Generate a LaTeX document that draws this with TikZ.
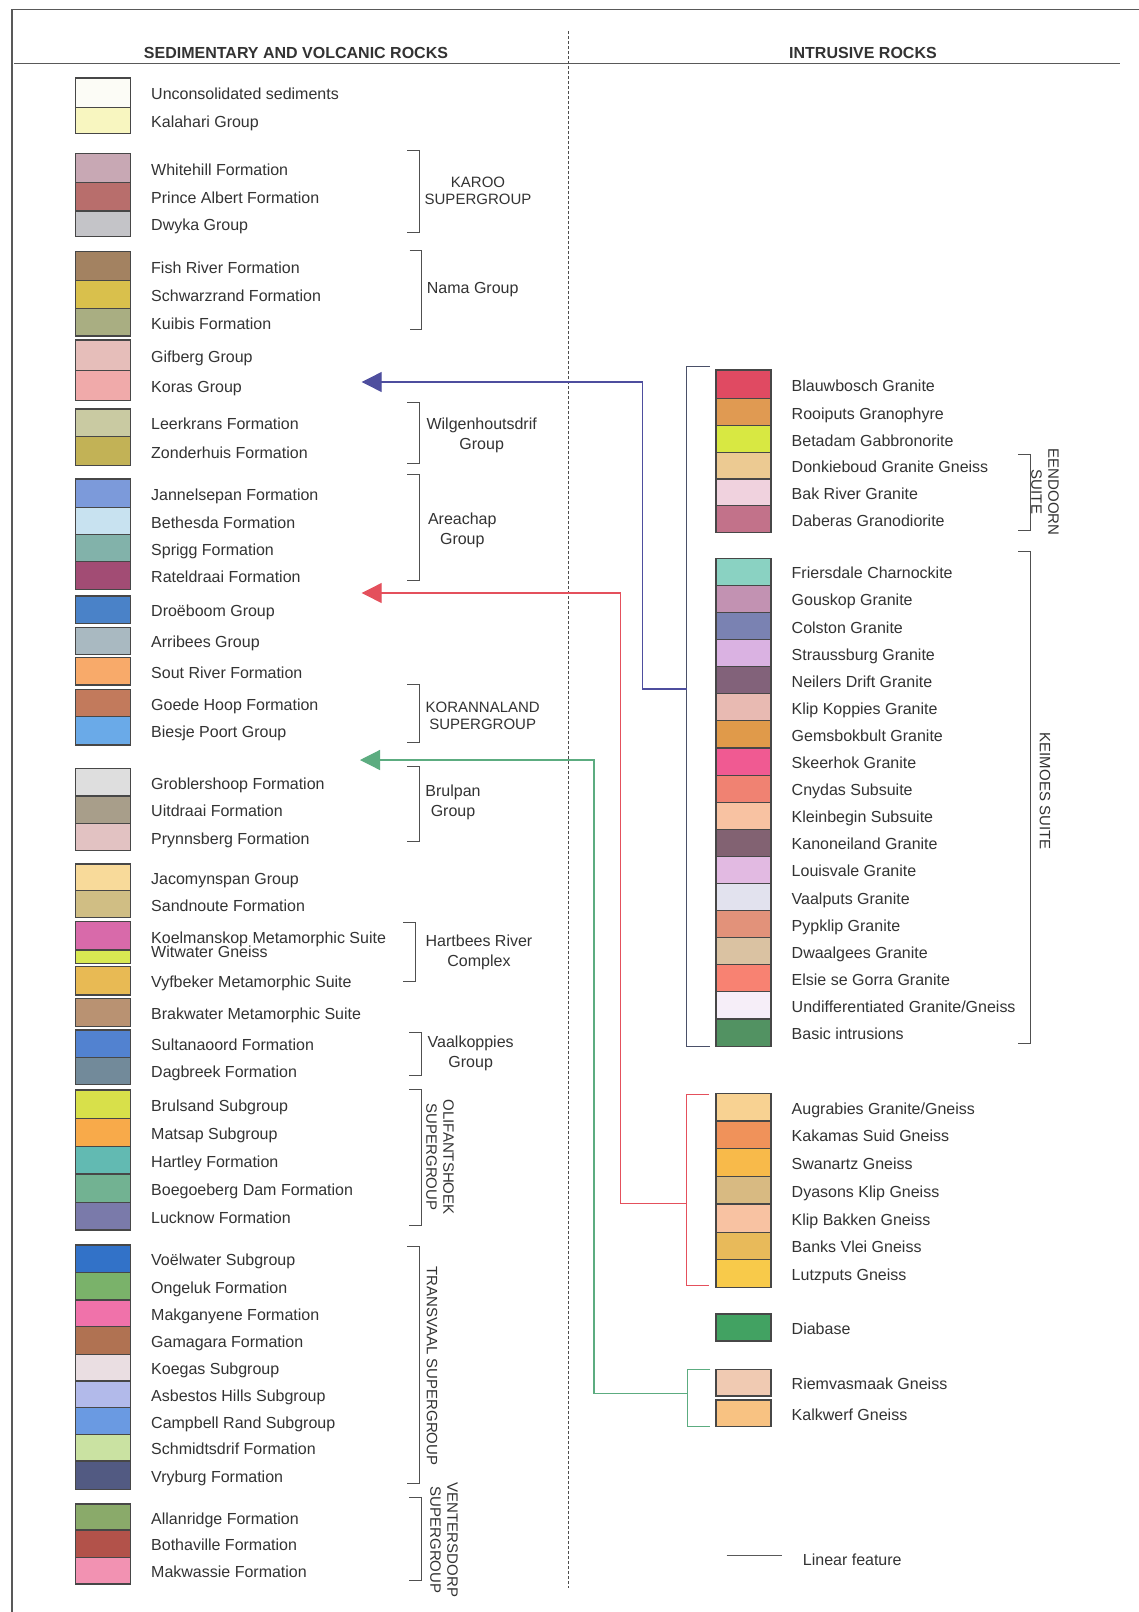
\documentclass[tikz,border=0pt]{standalone}
\usepackage{fontspec}
\setmainfont{Liberation Sans}
\usetikzlibrary{arrows.meta}
\definecolor{ink}{HTML}{333333}
\definecolor{brkc}{HTML}{505050}
\definecolor{bluec}{HTML}{4E4E9E}
\definecolor{redc}{HTML}{E4505C}
\definecolor{greenc}{HTML}{5CAC80}
\definecolor{outerc}{HTML}{4A5068}
\tikzset{
 swatch/.style={draw=black!72,line width=1.1pt,inner sep=0,outer sep=0,minimum width=55,rectangle},
 lbl/.style={anchor=base west,inner sep=0,text=ink,font=\fontsize{16}{18}\selectfont},
 grp/.style={align=center,inner sep=0,text=ink,font=\fontsize{16}{20}\selectfont},
 capl/.style={align=center,inner sep=0,text=ink,font=\fontsize{15}{17}\selectfont},
 brk/.style={draw=brkc,line width=1pt},
 head/.style={inner sep=0,text=ink,font=\bfseries\fontsize{16}{18}\selectfont},
 conn/.style={line width=1.2pt,-{Triangle[length=20pt,width=20pt]}},
}
% #1 name, #2 x centre, #3 top, #4 bottom, #5 HTML colour, #6 label
\newcommand\mysw[6]{%
  \definecolor{c#1}{HTML}{#5}%
  \node[swatch,fill=c#1,minimum height={#4-#3}] (#1) at (#2,{(#3+#4)/2}) {};
  \node[lbl] (#1-t) at ({#2+48},{(#3+#4)/2+7}) {#6};}
% same, explicit text baseline #7
\newcommand\myswb[7]{%
  \definecolor{c#1}{HTML}{#5}%
  \node[swatch,fill=c#1,minimum height={#4-#3}] (#1) at (#2,{(#3+#4)/2}) {};
  \node[lbl] (#1-t) at ({#2+48},#7) {#6};}
% closing bracket ] : #1 name, #2 x, #3 top, #4 bottom, #5 style
\newcommand\mybrR[5]{%
  \draw[#5] ({#2-12},#3) -- (#2,#3) -- (#2,#4) -- ({#2-12},#4);
  \coordinate (#1) at (#2,{(#3+#4)/2});}
% opening bracket [ : #1 name, #2 x, #3 top, #4 bottom, #5 style
\newcommand\mybrL[5]{%
  \draw[#5] ({#2+23},#3) -- (#2,#3) -- (#2,#4) -- ({#2+23},#4);
  \coordinate (#1) at (#2,{(#3+#4)/2});}
\begin{document}
\begin{tikzpicture}[x=1pt,y=-1pt]
\useasboundingbox (0,0) rectangle (1139,1612);
\fill[white] (0,0) rectangle (1139,1612);
% frame
\draw[draw=black!65,line width=1.5pt] (12,1612) -- (12,9.5) -- (1139,9.5);
\draw[draw=black!65,line width=1.3pt] (14,63.5) -- (1120,63.5);
\draw[draw=black!70,line width=0.8pt,dash pattern=on 3pt off 2pt] (568,31) -- (568,1588);
\node[head] (h1) at (296,53) {SEDIMENTARY AND VOLCANIC ROCKS};
\node[head] (h2) at (863,53) {INTRUSIVE ROCKS};

% ---------------- left column
\mysw{uncon}{103}{78}{107.7}{FCFCF6}{Unconsolidated sediments}
\mysw{kala}{103}{107.7}{133.3}{F8F6C0}{Kalahari Group}

\mysw{white}{103}{153.3}{182.7}{C8A8B4}{Whitehill Formation}
\mysw{prince}{103}{182.7}{211}{B86E6C}{Prince Albert Formation}
\mysw{dwyka}{103}{211}{236.7}{C4C4C8}{Dwyka Group}

\mysw{fish}{103}{251.7}{280.7}{A38261}{Fish River Formation}
\mysw{schw}{103}{280.7}{308.3}{D9C04C}{Schwarzrand Formation}
\mysw{kuibis}{103}{308.3}{336}{A9AE82}{Kuibis Formation}

\mysw{gif}{103}{340}{370.7}{E6BEBA}{Gifberg Group}
\mysw{koras}{103}{370.7}{400.7}{F0AAAA}{Koras Group}

\mysw{leer}{103}{409}{436.7}{C9CAA2}{Leerkrans Formation}
\mysw{zond}{103}{436.7}{465.7}{C2B256}{Zonderhuis Formation}

\mysw{jann}{103}{479}{507.7}{7C9ADA}{Jannelsepan Formation}
\mysw{beth}{103}{507.7}{534.3}{C8E2F0}{Bethesda Formation}
\mysw{sprigg}{103}{534.3}{561.7}{82B2AA}{Sprigg Formation}
\mysw{ratel}{103}{561.7}{589.3}{A24C74}{Rateldraai Formation}

\mysw{droe}{103}{596}{623.3}{4A82C8}{Droëboom Group}
\mysw{arri}{103}{627.5}{654.3}{A9B9C1}{Arribees Group}
\mysw{sout}{103}{657.5}{685}{F8AA6A}{Sout River Formation}

\mysw{goede}{103}{689.3}{716.7}{C27A5C}{Goede Hoop Formation}
\mysw{biesje}{103}{716.7}{745}{6AAAE8}{Biesje Poort Group}

\mysw{grob}{103}{768.3}{796}{DEDEDE}{Groblershoop Formation}
\mysw{uit}{103}{796}{823.3}{A89E8A}{Uitdraai Formation}
\mysw{pryn}{103}{823.3}{850.7}{E2C2C2}{Prynnsberg Formation}

\mysw{jaco}{103}{864}{890.7}{F8DA9A}{Jacomynspan Group}
\mysw{sand}{103}{890.7}{917.5}{D0BE84}{Sandnoute Formation}
\myswb{koel}{103}{921.7}{950}{D86AAA}{Koelmanskop Metamorphic Suite}{943}
\myswb{witw}{103}{950}{963.3}{D8E852}{Witwater Gneiss}{957}
\mysw{vyf}{103}{966.7}{995}{E8BA54}{Vyfbeker Metamorphic Suite}
\mysw{brak}{103}{998.3}{1026.7}{B99272}{Brakwater Metamorphic Suite}

\mysw{sult}{103}{1030}{1057.3}{5282D0}{Sultanaoord Formation}
\mysw{dag}{103}{1057.3}{1084.3}{728A9A}{Dagbreek Formation}

\mysw{brul}{103}{1090}{1118.3}{D8E04A}{Brulsand Subgroup}
\mysw{mats}{103}{1118.3}{1146.7}{F8AA4A}{Matsap Subgroup}
\mysw{hart}{103}{1146.7}{1174}{62BAB2}{Hartley Formation}
\mysw{boeg}{103}{1174}{1202.7}{72B292}{Boegoeberg Dam Formation}
\mysw{luck}{103}{1202.7}{1230}{7A7AAA}{Lucknow Formation}

\mysw{voel}{103}{1245}{1272.3}{3272C8}{Voëlwater Subgroup}
\mysw{ong}{103}{1272.3}{1300}{7AB26A}{Ongeluk Formation}
\mysw{makg}{103}{1300}{1326.7}{F072AA}{Makganyene Formation}
\mysw{gama}{103}{1326.7}{1354.3}{B07252}{Gamagara Formation}
\mysw{koeg}{103}{1354.3}{1381}{EADEE2}{Koegas Subgroup}
\mysw{asb}{103}{1381}{1407.7}{B2BAEA}{Asbestos Hills Subgroup}
\mysw{camp}{103}{1407.7}{1434.3}{6A9AE2}{Campbell Rand Subgroup}
\mysw{schm}{103}{1434.3}{1461}{CAE2A2}{Schmidtsdrif Formation}
\mysw{vry}{103}{1461}{1489.3}{525A82}{Vryburg Formation}

\mysw{allan}{103}{1504}{1530}{8AAA6A}{Allanridge Formation}
\mysw{both}{103}{1530}{1557.3}{B2524A}{Bothaville Formation}
\mysw{makw}{103}{1557.3}{1584}{F292B2}{Makwassie Formation}

% left brackets and group labels
\mybrR{bkaroo}{419}{150}{232}{brk}
\node[capl] (lkaroo) at (478,190.5) {KAROO\\SUPERGROUP};
\mybrR{bnama}{421.5}{250}{329}{brk}
\node[lbl,anchor=west] (lnama) at (426.7,290) {Nama Group};
\mybrR{bwilg}{419.3}{402.7}{463.3}{brk}
\node[grp] (lwilg) at (481.7,435) {Wilgenhoutsdrif\\Group};
\mybrR{barea}{419}{474}{580.7}{brk}
\node[grp] (larea) at (462.3,530.7) {Areachap\\Group};
\mybrR{bkor}{419.3}{684.3}{742.3}{brk}
\node[capl] (lkor) at (482.7,716.3) {KORANNALAND\\SUPERGROUP};
\mybrR{bbrul}{419}{766.7}{841.7}{brk}
\node[grp] (lbrul) at (453,802.3) {Brulpan\\Group};
\mybrR{bhart}{415}{922.7}{981.7}{brk}
\node[grp] (lhart) at (479,952.7) {Hartbees River\\Complex};
\mybrR{bvaal}{421}{1032.7}{1075.7}{brk}
\node[grp] (lvaal) at (470.7,1053.3) {Vaalkoppies\\Group};
\mybrR{bolif}{421}{1089.3}{1225}{brk}
\node[capl,rotate=-90] (lolif) at (440,1157) {OLIFANTSHOEK\\SUPERGROUP};
\mybrR{btrans}{419.3}{1246.7}{1483.3}{brk}
\node[capl,rotate=-90] (ltrans) at (432,1366) {TRANSVAAL SUPERGROUP};
\mybrR{bvent}{421}{1497.3}{1580}{brk}
\node[capl,rotate=-90] (lvent) at (444,1540) {VENTERSDORP\\SUPERGROUP};

% ---------------- right column
\mysw{blau}{743.5}{370}{398.3}{E04A62}{Blauwbosch Granite}
\mysw{rooi}{743.5}{398.3}{425.7}{E09A52}{Rooiputs Granophyre}
\mysw{beta}{743.5}{425.7}{452.3}{D8E842}{Betadam Gabbronorite}
\mysw{donk}{743.5}{452.3}{479}{ECCA92}{Donkieboud Granite Gneiss}
\mysw{bak}{743.5}{479}{505.7}{F0D2DE}{Bak River Granite}
\mysw{dabe}{743.5}{505.7}{532.7}{C2728A}{Daberas Granodiorite}

\mysw{fries}{743.5}{558.3}{585.4}{8AD2C2}{Friersdale Charnockite}
\mysw{gous}{743.5}{585.4}{612.5}{C292B2}{Gouskop Granite}
\mysw{cols}{743.5}{612.5}{639.6}{7A82B2}{Colston Granite}
\mysw{strau}{743.5}{639.6}{666.7}{DAB2E2}{Straussburg Granite}
\mysw{neil}{743.5}{666.7}{693.8}{82627A}{Neilers Drift Granite}
\mysw{klipk}{743.5}{693.8}{720.9}{E8BAB2}{Klip Koppies Granite}
\mysw{gems}{743.5}{720.9}{748}{E09A4A}{Gemsbokbult Granite}
\mysw{skeer}{743.5}{748}{775.1}{F05A92}{Skeerhok Granite}
\mysw{cnyd}{743.5}{775.1}{802.2}{F08272}{Cnydas Subsuite}
\mysw{klein}{743.5}{802.2}{829.3}{F8C2A2}{Kleinbegin Subsuite}
\mysw{kanon}{743.5}{829.3}{856.4}{826272}{Kanoneiland Granite}
\mysw{louis}{743.5}{856.4}{883.5}{E2BAE2}{Louisvale Granite}
\mysw{vaalp}{743.5}{883.5}{910.6}{E2E2EE}{Vaalputs Granite}
\mysw{pypk}{743.5}{910.6}{937.7}{E2927A}{Pypklip Granite}
\mysw{dwaal}{743.5}{937.7}{964.8}{DAC2A2}{Dwaalgees Granite}
\mysw{elsie}{743.5}{964.8}{991.9}{F88272}{Elsie se Gorra Granite}
\mysw{undif}{743.5}{991.9}{1019}{F6EEF8}{Undifferentiated Granite/Gneiss}
\mysw{basic}{743.5}{1019}{1046.1}{529262}{Basic intrusions}

\mysw{aug}{743.5}{1093.3}{1121}{F8D292}{Augrabies Granite/Gneiss}
\mysw{kak}{743.5}{1121}{1148.3}{F0925A}{Kakamas Suid Gneiss}
\mysw{swan}{743.5}{1148.3}{1176.7}{F8BA4A}{Swanartz Gneiss}
\mysw{dyas}{743.5}{1176.7}{1204}{D8BA82}{Dyasons Klip Gneiss}
\mysw{klipb}{743.5}{1204}{1232.3}{F8C2A2}{Klip Bakken Gneiss}
\mysw{banks}{743.5}{1232.3}{1259.3}{E8BA5A}{Banks Vlei Gneiss}
\mysw{lutz}{743.5}{1259.3}{1287.3}{F8CA4A}{Lutzputs Gneiss}

\mysw{diab}{743.5}{1314}{1341}{42A262}{Diabase}

\mysw{riem}{743.5}{1369.3}{1396}{F0CAB2}{Riemvasmaak Gneiss}
\mysw{kalk}{743.5}{1400}{1426.7}{F8C282}{Kalkwerf Gneiss}

% right brackets
\mybrR{beend}{1030}{454.3}{530.7}{brk}
\node[capl,rotate=-90] (leend) at (1045,492) {EENDOORN\\SUITE};
\mybrR{bkeim}{1030}{551.7}{1043.3}{brk}
\node[capl,rotate=-90] (lkeim) at (1045,791) {KEIMOES SUITE};

\mybrL{bouter}{686.7}{366}{1046.7}{draw=outerc,line width=1pt}
\mybrL{bred}{686}{1094.3}{1285}{draw=redc,line width=1pt}
\mybrL{bgreen}{687.3}{1369.3}{1426.7}{draw=greenc,line width=1pt}

% connectors
\coordinate (bluej) at (686.7,689);
\coordinate (bluetip) at (361.7,382);
\coordinate (redj) at (686,1203.3);
\coordinate (redtip) at (361.7,593);
\coordinate (greenj) at (687.3,1393.3);
\coordinate (greentip) at (360,760);
\draw[conn,draw=bluec] (bluej) -- ++(-44,0) |- (bluetip);
\draw[conn,draw=redc] (redj) -- ++(-65.3,0) |- (redtip);
\draw[conn,draw=greenc] (greenj) -- ++(-93.3,0) |- (greentip);

% linear feature
\coordinate (lfa) at (726.7,1555.7);
\coordinate (lfb) at (781.7,1555.7);
\draw[draw=black!65,line width=1pt] (lfa) -- (lfb);
\node[lbl,anchor=west] (lft) at (802.7,1560) {Linear feature};
\end{tikzpicture}
\end{document}
